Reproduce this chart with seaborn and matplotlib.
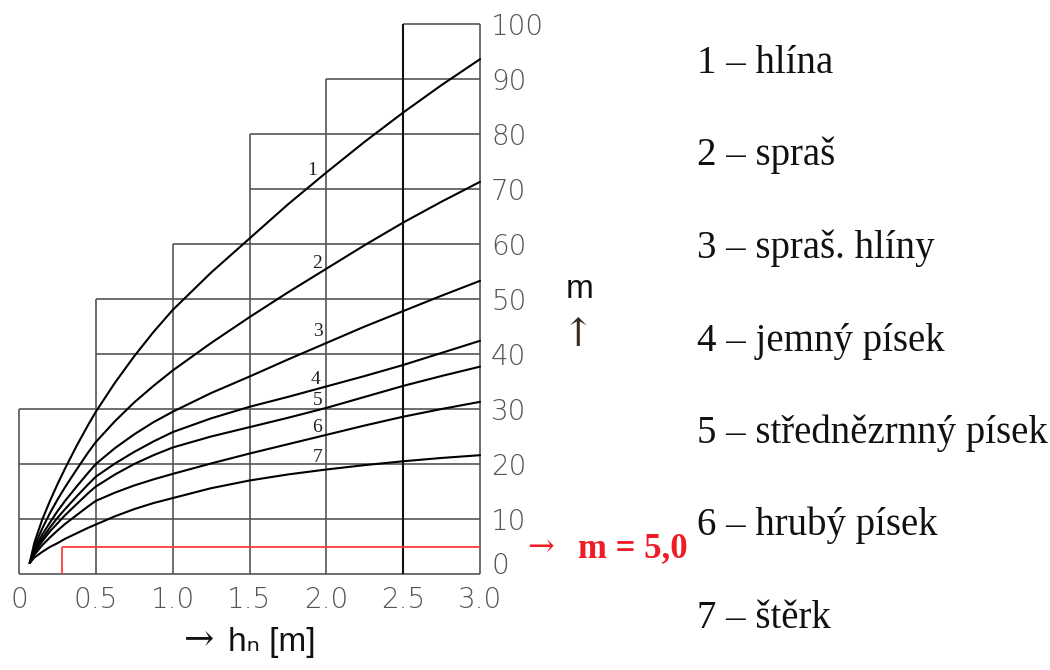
import numpy as np
import pandas as pd
import matplotlib
matplotlib.use("Agg")
import matplotlib.pyplot as plt
import seaborn as sns
from matplotlib.transforms import ScaledTranslation

# ---------------- data ----------------
h_vals = [0.07, 0.1, 0.15, 0.2, 0.25, 0.3, 0.375, 0.45, 0.5, 0.625, 0.75, 0.875,
          1.0, 1.25, 1.5, 1.75, 2.0, 2.25, 2.5, 2.75, 3.0]
m1 = [2, 5.7, 9.8, 13.2, 16.3, 19.2, 23.3, 27.1, 29.5, 34.8, 39.6, 44.0,
      48.0, 54.8, 61.0, 67.2, 73.0, 78.6, 83.9, 88.9, 93.6]
m2 = [2, 5.0, 8.2, 11.0, 13.5, 15.8, 19.0, 22.1, 24.0, 27.8, 31.2, 34.2,
      37.0, 42.0, 46.7, 51.2, 55.5, 59.8, 63.9, 67.7, 71.3]
m3 = [2, 4.4, 7.1, 9.3, 11.4, 13.3, 15.9, 18.4, 20.0, 22.9, 25.4, 27.6,
      29.5, 32.9, 35.9, 39.0, 42.0, 45.0, 47.8, 50.6, 53.3]
m4 = [2, 4.1, 6.4, 8.4, 10.2, 11.8, 14.1, 16.3, 17.7, 20.1, 22.2, 24.1,
      25.8, 28.3, 30.4, 32.2, 34.1, 36.0, 38.0, 40.2, 42.4]
m5 = [2, 3.9, 5.9, 7.7, 9.2, 10.7, 12.7, 14.7, 15.9, 18.1, 20.0, 21.6,
      23.0, 25.0, 26.7, 28.4, 30.2, 32.2, 34.2, 36.0, 37.7]
m6 = [2, 3.5, 5.2, 6.6, 7.9, 9.1, 10.7, 12.3, 13.3, 14.8, 16.1, 17.2,
      18.2, 20.1, 21.9, 23.6, 25.3, 27.0, 28.6, 30.0, 31.3]
m7 = [2, 3.0, 4.0, 4.9, 5.6, 6.4, 7.4, 8.4, 9.0, 10.5, 11.8, 12.9,
      13.8, 15.6, 17.0, 18.1, 19.0, 19.8, 20.5, 21.1, 21.6]
series = [m1, m2, m3, m4, m5, m6, m7]
curve_ids = ["1", "2", "3", "4", "5", "6", "7"]

# curve number labels (data position)
label_h = [1.905, 1.94, 1.945, 1.93, 1.945, 1.94, 1.945]
label_m = [73.3, 56.5, 44.0, 35.3, 31.6, 26.7, 21.2]

legend_labels = ["1 – hlína", "2 – spraš", "3 – spraš. hlíny", "4 – jemný písek",
                 "5 – střednězrnný písek", "6 – hrubý písek", "7 – štěrk"]

x_ticks = [0, 0.5, 1.0, 1.5, 2.0, 2.5, 3.0]
x_tick_labels = ["0", "0.5", "1.0", "1.5", "2.0", "2.5", "3.0"]
y_ticks = [0, 10, 20, 30, 40, 50, 60, 70, 80, 90, 100]
y_tick_labels = [str(v) for v in y_ticks]

# stepped grid: column positions and the height each vertical line reaches
grid_cols = [0, 0.5, 1.0, 1.5, 2.0, 2.5, 3.0]
grid_col_tops = [30, 50, 60, 80, 90, 100, 100]

# reading example
h_result = 0.28
m_result = 5.0

# ---------------- figure ----------------
sns.set_style("white")
plt.rcParams["font.family"] = ["Liberation Sans", "DejaVu Sans"]

df = pd.DataFrame({
    "h": np.tile(h_vals, len(series)),
    "m": np.concatenate(series),
    "curve": np.repeat(curve_ids, len(h_vals)),
})

fig = plt.figure(figsize=(10.5, 6.7), dpi=100)
ax = fig.add_axes([19 / 1050, 96 / 670, 461 / 1050, 550 / 670])

# stepped grid
h_levels = y_ticks
h_starts = [min(x for x, t in zip(grid_cols, grid_col_tops) if t >= L) for L in h_levels]
ax.hlines(h_levels, h_starts, grid_cols[-1], colors="#555555", lw=1.2, clip_on=False, zorder=1)
v_colors = ["#555555"] * len(grid_cols)
v_lw = [1.2] * len(grid_cols)
v_colors[5] = "#111111"
v_lw[5] = 1.5
ax.vlines(grid_cols, 0, grid_col_tops, colors=v_colors, lw=v_lw, clip_on=False, zorder=1)

# red reading lines
ax.hlines(m_result, h_result, grid_cols[-1], colors="#ff3c3c", lw=1.3, zorder=2, clip_on=False)
ax.vlines(h_result, 0, m_result, colors="#ff3c3c", lw=1.3, zorder=2, clip_on=False)

sns.lineplot(data=df, x="h", y="m", hue="curve", palette=["black"] * 7,
             estimator=None, sort=True, legend=False, lw=1.5, ax=ax, zorder=3)
for ln in ax.lines:
    ln.set_clip_on(False)
    ln.set_solid_joinstyle("round")

for cid, lx, ly in zip(curve_ids, label_h, label_m):
    ax.text(lx, ly, cid, ha="center", va="center", fontsize=14,
            family=["Liberation Serif", "DejaVu Serif"], color="#222222")

ax.set_xlim(0, 3)
ax.set_ylim(0, 100)
ax.set_xlabel("")
ax.set_ylabel("")
for s in ax.spines.values():
    s.set_visible(False)

ax.set_xticks(x_ticks)
ax.set_xticklabels(x_tick_labels)
ax.yaxis.tick_right()
ax.set_yticks(y_ticks)
ax.set_yticklabels(y_tick_labels)
ax.tick_params(axis="x", length=0, pad=9, labelsize=20, labelcolor="#555555")
ax.tick_params(axis="y", length=0, pad=8, labelsize=20, labelcolor="#555555")
for lab in ax.get_xticklabels() + ax.get_yticklabels():
    lab.set_fontfamily(["DejaVu Sans"])
    lab.set_fontweight("light")
# lift the "0" label on the right so it does not collide with "3.0"
zero_lab = ax.get_yticklabels()[0]
zero_lab.set_transform(zero_lab.get_transform() + ScaledTranslation(0, 0.11, fig.dpi_scale_trans))

# red result text
ax.annotate("→", xy=(3.0, m_result), xytext=(47, -2), textcoords="offset pixels",
            va="center", ha="left", fontsize=23, color="#ee1c25",
            family=["DejaVu Serif"], annotation_clip=False)
ax.annotate("m = 5,0", xy=(3.0, m_result), xytext=(98, -2), textcoords="offset pixels",
            va="center", ha="left", fontsize=25, fontweight="bold", color="#ee1c25",
            family=["Liberation Serif", "DejaVu Serif"], annotation_clip=False)

# axis captions
fig.text(580 / 1050, 1 - 290 / 670, "m", ha="center", va="center", fontsize=24, color="#111111")
fig.text(578 / 1050, 1 - 335 / 670, "↑", ha="center", va="center", fontsize=28,
         color="#3a2a20", family=["DejaVu Serif"])
fig.text(199 / 1050, 1 - 640 / 670, "→", ha="center", va="center", fontsize=26,
         color="#111111", family=["DejaVu Serif"])
fig.text(228 / 1050, 1 - 642 / 670, "hₙ [m]", ha="left", va="center", fontsize=24,
         color="#111111", family=["Liberation Sans", "DejaVu Sans"])

# legend list on the right
for i, txt in enumerate(legend_labels):
    fig.text(697 / 1050, 1 - (73 + 92.5 * i) / 670, txt, ha="left", va="baseline",
             fontsize=28, color="#111111", family=["Liberation Serif", "DejaVu Serif"])

fig.savefig("out.png", dpi=100)
